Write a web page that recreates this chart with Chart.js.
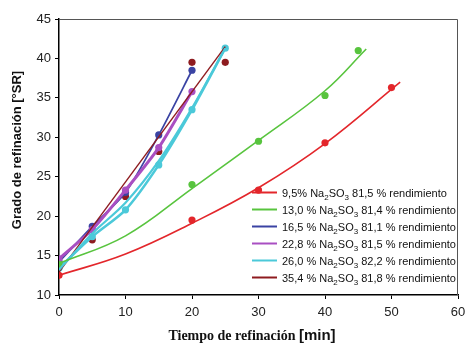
<!DOCTYPE html>
<html>
<head>
<meta charset="utf-8">
<script src="https://cdn.jsdelivr.net/npm/chart.js@4"></script>
<style>
  html, body { margin: 0; padding: 0; background: #fff; }
  #wrap { width: 465px; height: 346px; }
</style>
</head>
<body>
<div id="wrap"><canvas id="chart" width="465" height="346"></canvas></div>
<script>
// ===== 数据 =====
const xTicks = [0, 10, 20, 30, 40, 50, 60];
const yTicks = [10, 15, 20, 25, 30, 35, 40, 45];

// measured points
const redPts = [[0, 12.5], [20, 19.5], [30, 23.3], [40, 29.3], [50, 36.3]];
const greenPts = [[0, 13.9], [20, 24.0], [30, 29.5], [40, 35.3], [45, 41.0]];
const bluePts = [[0, 14.2], [5, 18.7], [10, 23.0], [15, 30.3], [20, 38.5]];
const magentaPts = [[0, 14.6], [5, 18.3], [10, 23.3], [15, 28.7], [20, 35.8]];
const cyanPts = [[0, 13.4], [5, 17.4], [10, 20.8], [15, 26.5], [20, 33.5], [25, 41.3]];
const darkRedPts = [[0, 13.9], [5, 17.0], [10, 22.5], [15, 28.2], [20, 39.5], [25, 39.5]];

// trend curves
const redFit = [[0, 12.5], [10, 15.2], [20, 19.1], [30, 23.6], [40, 29.2], [51.3, 37.0]];
const greenFit = [[0, 14.0], [10, 17.5], [20, 23.5], [30, 29.6], [40, 35.9], [46.2, 41.2]];
const cyanFit = [[0, 13.2], [5, 17.8], [10, 21.7], [15, 27.0], [20, 33.7], [25, 41.3]];
const darkRedFit = [[0, 12.9], [25, 41.5]];

const concLabels = ['9,5%', '13,0 %', '16,5 %', '22,8 %', '26,0 %', '35,4 %'];
const yieldLabels = ['81,5', '81,4', '81,1', '81,5', '82,2', '81,8'];
const colors = ['#e3262b', '#58c43e', '#3a43a3', '#a94fc2', '#4bc9d9', '#8e1b1f'];

const toXY = arr => arr.map(p => ({ x: p[0], y: p[1] }));

function lineSet(pts, color, width, tension) {
    return { data: toXY(pts), showLine: true, borderColor: color, borderWidth: width,
             pointRadius: 0, tension: tension, fill: false };
}
function pointSet(pts, color, showLine, width) {
    return { data: toXY(pts), showLine: showLine, borderColor: color, backgroundColor: color,
             borderWidth: width || 0, pointRadius: 3.6, pointBorderWidth: 0, tension: 0.25, fill: false };
}

// ===== 边框、标题、图例 =====
const decorPlugin = {
    id: 'decor',
    afterDraw(chart) {
        const ctx = chart.ctx;
        const a = chart.chartArea;
        ctx.save();
        // top / right frame
        ctx.strokeStyle = '#555';
        ctx.lineWidth = 1;
        ctx.beginPath();
        ctx.moveTo(a.left, a.top + 0.5);
        ctx.lineTo(a.right - 0.5, a.top + 0.5);
        ctx.lineTo(a.right - 0.5, a.bottom);
        ctx.stroke();

        // y title
        ctx.fillStyle = '#111';
        ctx.save();
        ctx.translate(17, 150);
        ctx.rotate(-Math.PI / 2);
        ctx.font = 'bold 13px "Liberation Sans", Arial, sans-serif';
        ctx.textAlign = 'center';
        ctx.textBaseline = 'middle';
        ctx.fillText('Grado de refinación [°SR]', 0, 0);
        ctx.restore();

        // x title (serif + sans)
        const p1 = 'Tiempo de refinación ';
        const p2 = '[min]';
        const f1 = 'bold 14px "Liberation Serif", "Times New Roman", serif';
        const f2 = 'bold 15px "Liberation Sans", Arial, sans-serif';
        ctx.font = f1; const w1 = ctx.measureText(p1).width;
        ctx.font = f2; const w2 = ctx.measureText(p2).width;
        let x = 252 - (w1 + w2) / 2;
        ctx.textBaseline = 'alphabetic';
        ctx.textAlign = 'left';
        ctx.font = f1; ctx.fillText(p1, x, 340);
        ctx.font = f2; ctx.fillText(p2, x + w1, 340);

        // legend
        const fMain = '11px "Liberation Sans", Arial, sans-serif';
        const fSub = '8px "Liberation Sans", Arial, sans-serif';
        concLabels.forEach((c, i) => {
            const y = 192.5 + i * 17;
            ctx.strokeStyle = colors[i];
            ctx.lineWidth = 2;
            ctx.beginPath();
            ctx.moveTo(252, y);
            ctx.lineTo(277, y);
            ctx.stroke();
            ctx.fillStyle = '#111';
            let tx = 282;
            const parts = [[c + ' Na', fMain, 0], ['2', fSub, 3], ['SO', fMain, 0], ['3', fSub, 3], [' ' + yieldLabels[i] + ' % rendimiento', fMain, 0]];
            parts.forEach(pt => {
                ctx.font = pt[1];
                ctx.fillText(pt[0], tx, y + 4 + pt[2]);
                tx += ctx.measureText(pt[0]).width;
            });
        });
        ctx.restore();
    }
};

const tickFont = { family: '"Liberation Sans", Arial, sans-serif', size: 13 };

new Chart(document.getElementById('chart'), {
    type: 'scatter',
    data: {
        datasets: [
            lineSet(redFit, colors[0], 1.6, 0.4),
            lineSet(greenFit, colors[1], 1.6, 0.4),
            lineSet(cyanFit, colors[4], 2.2, 0.3),
            lineSet(darkRedFit, colors[5], 1.4, 0),
            pointSet(redPts, colors[0], false),
            pointSet(greenPts, colors[1], false),
            pointSet(cyanPts, colors[4], true, 2.6),
            pointSet(magentaPts, colors[3], true, 3),
            pointSet(bluePts, colors[2], true, 1.7),
            pointSet(darkRedPts, colors[5], false)
        ]
    },
    options: {
        responsive: false,
        animation: false,
        layout: { padding: { top: 19, right: 7, left: 0, bottom: 0 } },
        plugins: { legend: { display: false }, tooltip: { enabled: false } },
        scales: {
            x: {
                type: 'linear', min: 0, max: 60,
                afterBuildTicks: s => { s.ticks = xTicks.map(v => ({ value: v })); },
                afterFit: s => { s.height = 51; s.paddingRight = 0; s.paddingLeft = 0; },
                grid: { display: true, drawOnChartArea: false, drawTicks: true, tickLength: 4, color: '#000' },
                border: { color: '#000', width: 1.5 },
                ticks: { font: tickFont, color: '#222', padding: 6, maxRotation: 0 }
            },
            y: {
                type: 'linear', min: 10, max: 45,
                afterBuildTicks: s => { s.ticks = yTicks.map(v => ({ value: v })); },
                afterFit: s => { s.width = 59; s.paddingTop = 0; s.paddingBottom = 0; },
                grid: { display: true, drawOnChartArea: false, drawTicks: true, tickLength: 4, color: '#000' },
                border: { color: '#000', width: 1.5 },
                ticks: { font: tickFont, color: '#222', padding: 4 }
            }
        }
    },
    plugins: [decorPlugin]
});
</script>
</body>
</html>
